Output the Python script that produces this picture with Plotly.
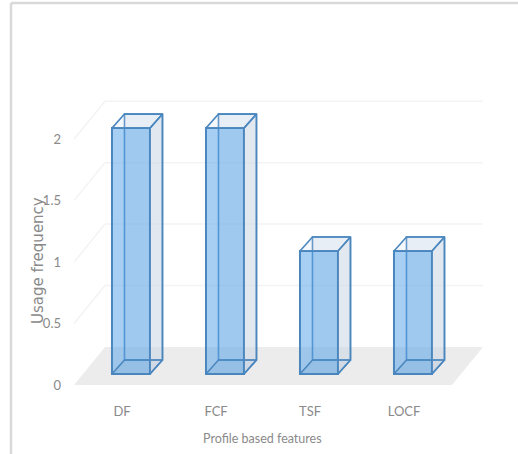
import plotly.graph_objects as go

categories = ["DF", "FCF", "TSF", "LOCF"]
values = [2, 2, 1, 1]
y_ticks = [0, 0.5, 1, 1.5, 2]
y_tick_labels = ["0", "0.5", "1", "1.5", "2"]

W, H = 518, 454
L, R, T, B = 74, 35, 90, 69
X_RANGE = [-0.606, 3.745]
Y_RANGE = [0, 2.4]

BAR_W = 0.404
BAR_BASE = 0.09
BOX_DX, BOX_DY = 0.133, 0.114
FLOOR_DX, FLOOR_DY = 0.33, 0.309
FLOOR_L, FLOOR_R = X_RANGE[0], 3.415
LABEL_SHIFT = -0.095

EDGE = "#4b87bf"
FRONT = "rgba(88,164,232,0.53)"
BACK = "rgba(205,215,228,0.32)"
SIDE = "rgba(205,215,228,0.38)"
TOP = "rgba(205,222,240,0.22)"
TEXT = "#8a8a8a"
FONT = "Lato"

xs = list(range(len(categories)))
fig = go.Figure()

# back faces
fig.add_trace(go.Bar(
    x=[x + BOX_DX for x in xs], y=values, base=BAR_BASE + BOX_DY, width=BAR_W,
    marker=dict(color=BACK, line=dict(color=EDGE, width=1.6)), showlegend=False,
))
# front faces
fig.add_trace(go.Bar(
    x=xs, y=values, base=BAR_BASE, width=BAR_W,
    marker=dict(color=FRONT, line=dict(color=EDGE, width=2)), showlegend=False,
))

def poly(px, py, fill, width=1.6):
    fig.add_trace(go.Scatter(x=px, y=py, mode="lines", fill="toself", fillcolor=fill,
                             line=dict(color=EDGE, width=width), showlegend=False,
                             hoverinfo="skip"))

for x, v in zip(xs, values):
    xl, xr = x - BAR_W / 2, x + BAR_W / 2
    y0, y1 = BAR_BASE, BAR_BASE + v
    # right side
    poly([xr, xr + BOX_DX, xr + BOX_DX, xr, xr],
         [y0, y0 + BOX_DY, y1 + BOX_DY, y1, y0], SIDE)
    # top
    poly([xl, xl + BOX_DX, xr + BOX_DX, xr, xl],
         [y1, y1 + BOX_DY, y1 + BOX_DY, y1, y1], TOP)
    # bottom
    poly([xl, xl + BOX_DX, xr + BOX_DX, xr, xl],
         [y0, y0 + BOX_DY, y0 + BOX_DY, y0, y0], "rgba(75,135,191,0.10)")

shapes = []
# floor
shapes.append(dict(
    type="path", layer="below", xref="x", yref="y", line=dict(width=0), fillcolor="#ececec",
    path=(f"M {FLOOR_L} 0 L {FLOOR_L + FLOOR_DX} {FLOOR_DY} "
          f"L {FLOOR_R + FLOOR_DX} {FLOOR_DY} L {FLOOR_R} 0 Z"),
))
# oblique gridlines
for v in y_ticks[1:]:
    shapes.append(dict(
        type="path", layer="below", xref="x", yref="y",
        line=dict(color="#f3f3f3", width=1.5),
        path=(f"M {FLOOR_L} {v} L {FLOOR_L + FLOOR_DX} {v + FLOOR_DY} "
              f"L {FLOOR_R + FLOOR_DX} {v + FLOOR_DY}"),
    ))
# outer frame
pw, ph = W - L - R, H - T - B
def px_x(p): return (p - L) / pw
def px_y(p): return (H - B - p) / ph
frame = dict(type="line", xref="paper", yref="paper", line=dict(color="#d9d9d9", width=2.5))
shapes.append({**frame, "x0": px_x(11), "x1": px_x(518), "y0": px_y(3), "y1": px_y(3)})
shapes.append({**frame, "x0": px_x(11), "x1": px_x(11), "y0": px_y(3), "y1": px_y(454)})

fig.update_layout(
    width=W, height=H,
    margin=dict(l=L, r=R, t=T, b=B, autoexpand=False),
    paper_bgcolor="white", plot_bgcolor="white",
    barmode="overlay", showlegend=False, hovermode=False,
    shapes=shapes,
    font=dict(family=FONT, color=TEXT, size=14),
    xaxis=dict(
        range=X_RANGE, tickmode="array",
        tickvals=[x + LABEL_SHIFT for x in xs], ticktext=categories,
        showgrid=False, zeroline=False, showline=False, ticks="",
        ticklabelstandoff=17, tickfont=dict(size=13, family=FONT, color=TEXT),
        automargin=False,
    ),
    yaxis=dict(
        range=Y_RANGE, tickmode="array", tickvals=y_ticks, ticktext=y_tick_labels,
        showgrid=False, zeroline=False, showline=False, ticks="",
        ticklabelstandoff=12, tickfont=dict(size=13, family=FONT, color=TEXT),
        automargin=False,
    ),
    annotations=[
        dict(text="Profile based features", xref="paper", yref="paper",
             x=px_x(262), y=px_y(438), xanchor="center", yanchor="middle", showarrow=False,
             font=dict(family=FONT, size=12.5, color=TEXT)),
        dict(text="Usage frequency", xref="paper", yref="paper",
             x=px_x(38), y=px_y(261), xanchor="center", yanchor="middle", showarrow=False,
             textangle=-90,
             font=dict(family="DejaVu Sans", size=15, color=TEXT)),
    ],
)

fig.write_html("out.html", config={"displayModeBar": False},
               post_script="document.body.style.margin='0';document.documentElement.style.overflow='hidden';")
